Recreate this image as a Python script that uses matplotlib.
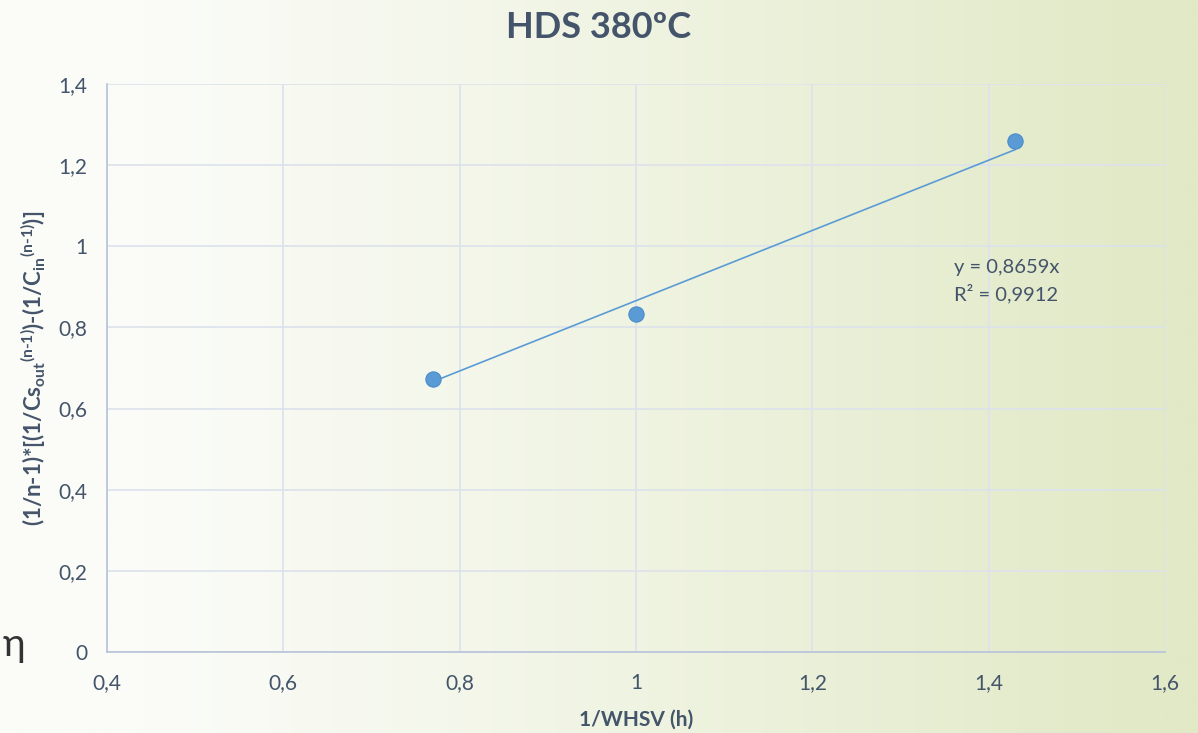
import numpy as np
import matplotlib
matplotlib.use("Agg")
import matplotlib.pyplot as plt
from matplotlib.colors import to_rgb
from matplotlib.ticker import FuncFormatter

# 1/WHSV (h) vs linearised conversion term
whsv_inv = [0.77, 1.0, 1.43]
conv_term = [0.672, 0.833, 1.260]
slope = 0.8659
r2 = 0.9912

x_ticks = [0.4, 0.6, 0.8, 1.0, 1.2, 1.4, 1.6]
y_ticks = [0, 0.2, 0.4, 0.6, 0.8, 1.0, 1.2, 1.4]

plt.rcParams['font.family'] = ['Lato', 'DejaVu Sans']
plt.rcParams['mathtext.fontset'] = 'custom'
plt.rcParams['mathtext.rm'] = 'Lato:bold'
plt.rcParams['mathtext.it'] = 'Lato:bold'
plt.rcParams['mathtext.bf'] = 'Lato:bold'

txt = '#44546a'
fig = plt.figure(figsize=(11.98, 7.33), dpi=100)

# soft white-to-green backdrop
bg = fig.add_axes([0, 0, 1, 1], zorder=-10)
t = np.linspace(0, 1, 600)
f = np.clip((t - 0.12) / 0.85, 0, 1) ** 1.1
c0 = np.array(to_rgb('#fbfcf8'))
c1 = np.array(to_rgb('#e1e9c6'))
row = c0[None, :] * (1 - f[:, None]) + c1[None, :] * f[:, None]
img = np.repeat(row[None, :, :], 50, axis=0)
bg.imshow(img, aspect='auto', extent=[0, 1, 0, 1])
bg.axis('off')

ax = fig.add_axes([0.0893, 0.1105, 0.8832, 0.7749])
ax.patch.set_alpha(0)

xs = np.array([min(whsv_inv), max(whsv_inv)])
ax.plot(xs, slope * xs, color='#5b9bd5', lw=1.2, zorder=3)
ax.plot(whsv_inv, conv_term, 'o', ms=11, color='#5b9bd5',
        mec='#4a8ccc', mew=0.8, zorder=4)

ax.set_xlim(0.4, 1.6)
ax.set_ylim(0, 1.4)
ax.set_xticks(x_ticks)
ax.set_yticks(y_ticks)
fmt = FuncFormatter(lambda v, p: ('%g' % round(v, 2)).replace('.', ','))
ax.xaxis.set_major_formatter(fmt)
ax.yaxis.set_major_formatter(fmt)
ax.tick_params(length=0, labelsize=15, colors=txt)
ax.tick_params(axis='x', pad=15)
ax.tick_params(axis='y', pad=14)
ax.grid(True, color='#dce2ec', lw=1.2)
ax.set_axisbelow(True)
for s in ['top', 'right']:
    ax.spines[s].set_visible(False)
for s in ['left', 'bottom']:
    ax.spines[s].set_color('#b7c3da')
    ax.spines[s].set_linewidth(1.2)

ax.text(0.801, 0.668, 'y = 0,8659x', transform=ax.transAxes,
        fontsize=14.5, color=txt)
ax.text(0.801, 0.619, 'R² = 0,9912', transform=ax.transAxes,
        fontsize=14.5, color=txt)

fig.text(0.5, 0.963, 'HDS 380ºC', ha='center', va='center',
         fontsize=26, fontweight='bold', color=txt)
fig.text(0.531, 0.018, '1/WHSV (h)', ha='center', va='center',
         fontsize=15, fontweight='bold', color=txt)
fig.text(0.028, 0.498,
         r'(1/n-1)*[(1/Cs$_{out}$$^{\text{(n-1)}}$)-(1/C$_{in}$$^{\text{(n-1)}}$)]',
         rotation=90, ha='center', va='center',
         fontsize=16, fontweight='bold', color=txt)

fig.text(0.002, 0.12, 'η', ha='left', va='center', fontsize=28, color='#333333')

fig.savefig('out.png', dpi=100)
